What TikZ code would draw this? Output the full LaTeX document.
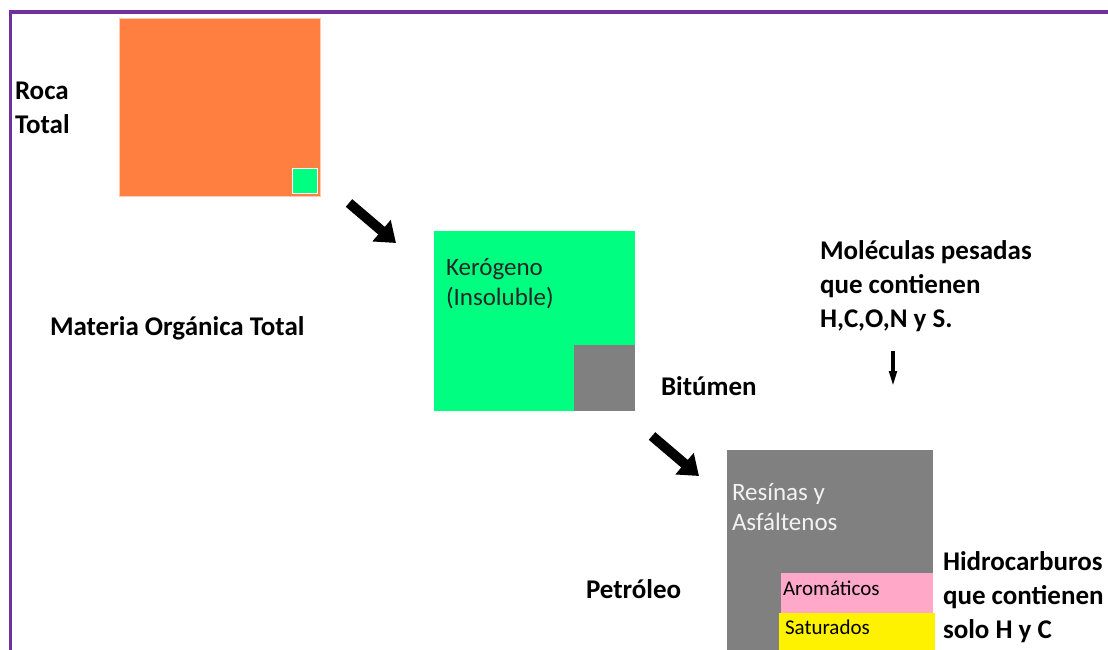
\documentclass[tikz,border=0pt]{standalone}
\usepackage{fontspec}
\setmainfont{Carlito}
\usepackage{xcolor}
\usetikzlibrary{arrows.meta, positioning}
\definecolor{roca}{HTML}{FF7F41}
\definecolor{kerogeno}{HTML}{00FF80}
\definecolor{bitumen}{HTML}{808080}
\definecolor{aromatico}{HTML}{FFA8C8}
\definecolor{saturado}{HTML}{FFF200}
\definecolor{marco}{HTML}{7030A0}

\begin{document}
\begin{tikzpicture}[x=1pt, y=-1pt,
  every node/.style={inner sep=0pt, outer sep=0pt},
  tag/.style={font=\fontsize{27}{34}\selectfont\bfseries, align=left, anchor=base west},
  boxtext/.style={font=\fontsize{25}{30}\selectfont, align=left, anchor=base west},
  smalltext/.style={font=\fontsize{21}{25}\selectfont, anchor=base west},
  block/.style={anchor=north west, minimum width=#1},
  bigarrow/.style={line width=10pt, -{Triangle[width=27pt, length=19pt]}}]
  \useasboundingbox (0,0) rectangle (1108,650);
  \draw[marco, line width=3.5pt] (10.5,650) -- (10.5,12) -- (1108,12);

  % roca total
  \node[block=201, minimum height=178, fill=roca, draw=roca!40] (rt) at (119,18) {};
  \node[block=25, minimum height=25, fill=kerogeno, draw=white] (mo) at (292,168) {};
  \node[tag] (rocal) at (15,134) {Roca\\Total};
  \node[tag] (mot) at (50,335) {Materia Orgánica Total};

  % kerogeno y bitumen
  \node[block=201, minimum height=180, fill=kerogeno] (ker) at (434,231) {};
  \node[block=61, minimum height=66, fill=bitumen] (bit) at (574,345) {};
  \node[boxtext, text=black!85] (kerl) at (446,305) {Kerógeno\\(Insoluble)};
  \node[tag] (bitl) at (661,395) {Bitúmen};

  % petroleo
  \node[block=206, minimum height=200, fill=bitumen] (pet) at (727,450) {};
  \node[block=152, minimum height=40, fill=aromatico] (aro) at (781,573) {};
  \node[block=156, minimum height=37, fill=saturado] (sat) at (779,613) {};
  \node[boxtext, text=black!5] (resl) at (732,530) {Resínas y\\Asfáltenos};
  \node[smalltext] (arol) at (783,595) {Aromáticos};
  \node[smalltext] (satl) at (785,634) {Saturados};
  \node[tag] (petl) at (586,598) {Petróleo};
  \node[tag] (hcl) at (943,638) {Hidrocarburos\\que contienen\\solo H y C};
  \node[tag] (mpl) at (820,327) {Moléculas pesadas\\que contienen\\H,C,O,N y S.};

  % flechas
  \coordinate (f1a) at (349,203);
  \coordinate (f1b) at (396,243);
  \coordinate (f2a) at (652,436);
  \coordinate (f2b) at (699,476);
  \coordinate (f3a) at (893,351);
  \coordinate (f3b) at (893,388);
  \draw[bigarrow] (f1a) -- (f1b);
  \draw[bigarrow] (f2a) -- (f2b);
  \draw[line width=4pt, -{Triangle[width=7pt, length=17pt]}] (f3a) -- (f3b);
\end{tikzpicture}
\end{document}
